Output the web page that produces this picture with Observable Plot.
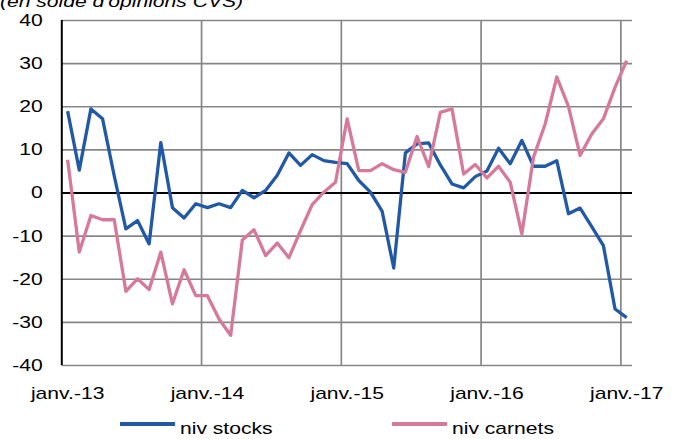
<!DOCTYPE html>
<html><head><meta charset="utf-8">
<script src="https://cdn.jsdelivr.net/npm/d3@7"></script>
<script src="https://cdn.jsdelivr.net/npm/@observablehq/plot@0.6"></script>
<style>
body{margin:0;background:#fff;font-family:"Liberation Sans",Arial,sans-serif;}
#wrap{position:relative;width:681px;height:439px;overflow:hidden;background:#fff;}
#chart{position:absolute;left:0;top:0;}
.stretch{position:absolute;white-space:nowrap;font-size:17px;line-height:17px;color:#000;transform:scaleX(1.24);transform-origin:0 0;}
.sw{position:absolute;height:3.5px;}
</style></head><body>
<div id="wrap"><div id="chart"></div></div>
<script>
const seriesNames = ["niv stocks", "niv carnets"];
const seriesColors = ["#2159a6", "#d6799b"];
const stocks = [19,5.3,19.5,17.2,4,-8.3,-6.4,-11.8,11.7,-3.4,-5.8,-2.5,-3.4,-2.5,-3.4,0.6,-1.1,0.6,4.1,9.3,6.4,8.9,7.5,7.1,6.8,2.9,0.2,-4.2,-17.4,9.3,11.4,11.6,6.5,2.1,1.2,3.8,5.1,10.4,6.8,12.2,6.2,6.2,7.5,-4.8,-3.5,-7.8,-12.2,-26.9,-28.9];
const carnets = [7.7,-13.7,-5.2,-6.2,-6.2,-22.8,-19.9,-22.4,-13.7,-25.7,-17.8,-23.8,-23.8,-29.2,-33,-10.9,-8.5,-14.5,-11.6,-15,-8.7,-2.7,0.2,2.5,17.2,5.2,5.2,6.8,5.4,4.8,13.1,6.1,18.7,19.5,4.4,6.6,3.5,6.2,2.5,-9.5,8.3,16,26.9,20.1,8.7,13.7,17.2,24.5,30.7];
const tickIdx = [0, 12, 24, 36, 48];
const tickLabels = ["janv.-13", "janv.-14", "janv.-15", "janv.-16", "janv.-17"];
const gridIdx = [11.5, 23.5, 35.5, 47.5];
const yTicks = [-40, -30, -20, -10, 0, 10, 20, 30, 40];
const title = "(en solde d'opinions CVS)";

const data = stocks.map((v, i) => ({i, v, s: seriesNames[0]}))
  .concat(carnets.map((v, i) => ({i, v, s: seriesNames[1]})));

const plot = Plot.plot({
  width: 681, height: 439,
  marginLeft: 61.3, marginRight: 49, marginTop: 20, marginBottom: 74,
  style: {fontFamily: "Liberation Sans, Arial, sans-serif", fontSize: "17px", color: "#000", background: "transparent", overflow: "visible"},
  x: {domain: [-0.5, 48.5]},
  y: {domain: [-40, 40]},
  color: {domain: seriesNames, range: seriesColors},
  marks: [
    Plot.ruleY(yTicks.filter(d => d !== 0), {stroke: "#868686", strokeWidth: 1.7}),
    Plot.ruleX(gridIdx, {stroke: "#868686", strokeWidth: 1.7}),
    Plot.ruleY([0], {stroke: "#000", strokeWidth: 2}),
    Plot.ruleX([-0.5], {stroke: "#000", strokeWidth: 2}),
    Plot.line(data, {x: "i", y: "v", z: "s", stroke: "s", strokeWidth: 3.3, strokeLinejoin: "round", strokeLinecap: "butt"}),
    Plot.axisY({ticks: yTicks, tickFormat: d => String(d), tickSize: 0, tickPadding: 19, fontSize: 17, label: null}),
    Plot.axisX({ticks: tickIdx, tickFormat: d => tickLabels[tickIdx.indexOf(d)], tickSize: 0, tickPadding: 21, fontSize: 17, label: null})
  ]
});
const wrap = document.getElementById("wrap");
document.getElementById("chart").appendChild(plot);
plot.querySelectorAll("text").forEach(t => {
  const L = t.getComputedTextLength();
  if (L > 0) { t.setAttribute("textLength", L * 1.24); t.setAttribute("lengthAdjust", "spacingAndGlyphs"); }
});

function addText(txt, left, top, extra) {
  const d = document.createElement("div");
  d.className = "stretch";
  d.textContent = txt;
  d.style.left = left + "px"; d.style.top = top + "px";
  if (extra) Object.assign(d.style, extra);
  wrap.appendChild(d);
}
function addSwatch(color, left, top, w) {
  const d = document.createElement("div");
  d.className = "sw";
  d.style.background = color; d.style.left = left + "px"; d.style.top = top + "px"; d.style.width = w + "px";
  wrap.appendChild(d);
}
addText(title, 0, -7, {fontStyle: "italic"});
addSwatch(seriesColors[0], 120, 422.3, 55);
addText(seriesNames[0], 180, 419.8);
addSwatch(seriesColors[1], 391.7, 422.3, 55);
addText(seriesNames[1], 452, 419.8);
</script>
</body></html>
